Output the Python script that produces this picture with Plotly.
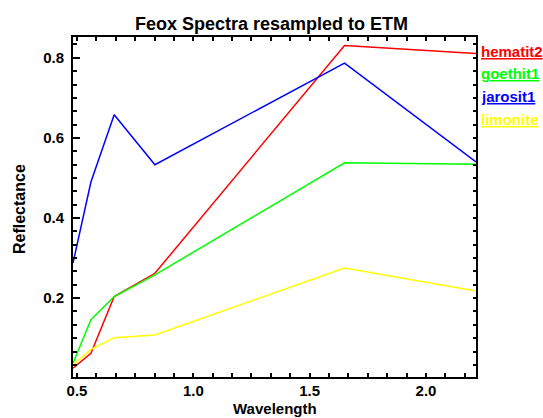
import plotly.graph_objects as go

# ETM band centres (micrometres)
wavelength = [0.483, 0.56, 0.66, 0.835, 1.65, 2.215]

hematit2 = [0.025, 0.062, 0.204, 0.262, 0.831, 0.811]
goethit1 = [0.0375, 0.146, 0.204, 0.258, 0.538, 0.534]
jarosit1 = [0.2875, 0.49, 0.658, 0.533, 0.787, 0.54]
limonite = [0.033, 0.072, 0.101, 0.108, 0.275, 0.218]

series_names = ["hematit2", "goethit1", "jarosit1", "limonite"]
series_values = [hematit2, goethit1, jarosit1, limonite]
series_colors = ["#ff0000", "#00ff00", "#0000ff", "#ffff00"]

W, H = 543, 418
ML, MR, MT, MB = 73, 67, 37, 41
plot_h = H - MT - MB

FONT = "Liberation Sans, Arial, Helvetica, sans-serif"

fig = go.Figure()
for name, vals, col in zip(series_names, series_values, series_colors):
    fig.add_trace(go.Scatter(x=wavelength, y=vals, mode="lines", name=name,
                             line=dict(color=col, width=1.5), showlegend=False))

# legend-like labels on the right
label_centers = [51.5, 74, 96.5, 119]
for name, col, cy in zip(series_names, series_colors, label_centers):
    fig.add_annotation(text=f"<u>{name}</u>", xref="paper", yref="paper",
                       x=1, y=(H - MB - cy) / plot_h, xanchor="left", yanchor="middle",
                       xshift=3, showarrow=False,
                       font=dict(family=FONT, size=15, color=col, weight="bold"))

# axis titles
fig.add_annotation(text="Wavelength", xref="paper", yref="paper", x=0.5, y=0,
                   xanchor="center", yanchor="bottom", yshift=-MB, borderpad=0,
                   showarrow=False, font=dict(family=FONT, size=15, color="black", weight="bold"))
fig.add_annotation(text="Reflectance", xref="paper", yref="paper", x=0, y=(H - MB - 209) / plot_h,
                   xanchor="center", yanchor="middle", xshift=19 - ML, textangle=-90,
                   showarrow=False, font=dict(family=FONT, size=16, color="black", weight="bold"))

fig.update_layout(
    width=W, height=H,
    margin=dict(l=ML, r=MR, t=MT, b=MB, pad=0),
    paper_bgcolor="white", plot_bgcolor="white",
    title=dict(text="Feox Spectra resampled to ETM", x=0.5, xref="container",
               y=(H - 24) / H, yanchor="middle", yref="container",
               font=dict(family=FONT, size=18, color="black", weight="bold")),
    xaxis=dict(range=[wavelength[0], wavelength[-1]], tick0=0.5, dtick=0.5,
               tickformat=".1f", showgrid=False, zeroline=False,
               showline=True, linecolor="black", linewidth=2, mirror="allticks",
               ticks="inside", ticklen=4, tickwidth=1.5, tickcolor="black",
               minor=dict(dtick=0.5 / 6, tick0=0.5, ticks="inside", ticklen=2,
                          tickwidth=1.5, tickcolor="black", showgrid=False),
               tickfont=dict(family=FONT, size=15, color="black", weight="bold"),
               ticklabelstandoff=-1),
    yaxis=dict(range=[0.003, 0.852], tick0=0, dtick=0.2, tickformat=".1f",
               showgrid=False, zeroline=False,
               showline=True, linecolor="black", linewidth=2, mirror=True,
               ticks="inside", ticklen=7, tickwidth=1.5, tickcolor="black",
               minor=dict(dtick=0.2 / 6, tick0=0, ticks="inside", ticklen=4,
                          tickwidth=1.5, tickcolor="black", showgrid=False),
               tickfont=dict(family=FONT, size=15, color="black", weight="bold"),
               ticklabelstandoff=4),
    yaxis2=dict(overlaying="y", side="right", matches="y", showgrid=False, zeroline=False,
                showline=False, ticks="inside", ticklen=3, tickwidth=1.5, tickcolor="black",
                tick0=0, dtick=0.2, showticklabels=False,
                minor=dict(dtick=0.2 / 6, tick0=0, ticks="inside", ticklen=3,
                           tickwidth=1.5, tickcolor="black", showgrid=False)),
)

# invisible trace to anchor right axis
fig.add_trace(go.Scatter(x=[wavelength[0]], y=[hematit2[0]], yaxis="y2", mode="lines",
                         line=dict(width=0), hoverinfo="skip", showlegend=False))

fig.write_html("out.html", config={"displayModeBar": False},
               post_script="document.body.style.margin='0';document.body.style.overflow='hidden';")
